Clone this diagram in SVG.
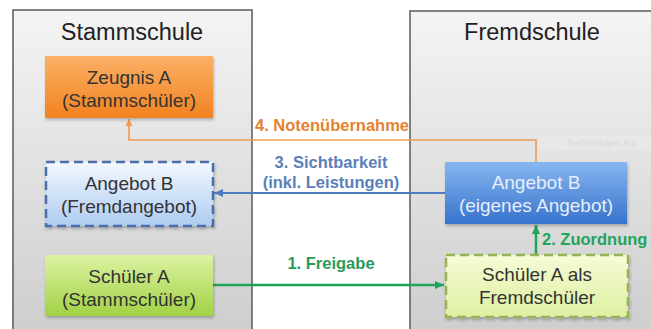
<svg xmlns="http://www.w3.org/2000/svg" width="651" height="329" viewBox="0 0 651 329">
<style>
  .title{font-family:"Liberation Sans",Arial,sans-serif;font-size:23.5px;fill:#222;text-anchor:middle}
  .nt{font-family:"Liberation Sans",Arial,sans-serif;font-size:19px;fill:#333;text-anchor:middle}
  .lbl{font-family:"Liberation Sans",Arial,sans-serif;font-size:16.5px;font-weight:bold}
  .panel{stroke:#5a5a5a;stroke-width:1.5;fill:url(#gPanel)}
  .conn{fill:none}
</style>
<defs>
  <linearGradient id="gPanel" x1="0" y1="0" x2="0" y2="1">
    <stop offset="0" stop-color="#f4f4f4"/>
    <stop offset="1" stop-color="#cdcdcd"/>
  </linearGradient>
  <linearGradient id="gOrange" x1="0" y1="0" x2="0" y2="1">
    <stop offset="0" stop-color="#fbb066"/>
    <stop offset="1" stop-color="#f2821f"/>
  </linearGradient>
  <linearGradient id="gBlueLight" x1="0" y1="0" x2="0" y2="1">
    <stop offset="0" stop-color="#f3f8ff"/>
    <stop offset="1" stop-color="#aecbf2"/>
  </linearGradient>
  <linearGradient id="gGreen" x1="0" y1="0" x2="0" y2="1">
    <stop offset="0" stop-color="#dcf2a2"/>
    <stop offset="1" stop-color="#a1d245"/>
  </linearGradient>
  <linearGradient id="gBlue" x1="0" y1="0" x2="0" y2="1">
    <stop offset="0" stop-color="#86b6f0"/>
    <stop offset="1" stop-color="#3873cc"/>
  </linearGradient>
  <linearGradient id="gGreenLight" x1="0" y1="0" x2="0" y2="1">
    <stop offset="0" stop-color="#f6fbd6"/>
    <stop offset="1" stop-color="#ddf0a0"/>
  </linearGradient>
  <filter id="sh" x="-10%" y="-10%" width="125%" height="130%">
    <feDropShadow dx="1" dy="2" stdDeviation="1.5" flood-color="#000" flood-opacity="0.25"/>
  </filter>
  <marker id="aOrange" markerUnits="userSpaceOnUse" markerWidth="8" markerHeight="8" refX="7" refY="4" orient="auto">
    <path d="M0,0.5 L7,4 L0,7.5 z" fill="#ee9a55"/>
  </marker>
  <marker id="aBlue" markerUnits="userSpaceOnUse" markerWidth="10" markerHeight="10" refX="9" refY="5" orient="auto">
    <path d="M0,1 L9,5 L0,9 z" fill="#4f7cc0"/>
  </marker>
  <marker id="aGreen" markerUnits="userSpaceOnUse" markerWidth="10" markerHeight="10" refX="9" refY="5" orient="auto">
    <path d="M0,1 L9,5 L0,9 z" fill="#1fa45a"/>
  </marker>
</defs>

<rect x="0" y="0" width="651" height="329" fill="#ffffff"/>

<g id="stammschule">
  <rect class="panel" x="13" y="10" width="239" height="330"/>
  <text class="title" x="132" y="40">Stammschule</text>
</g>
<g id="fremdschule">
  <rect class="panel" x="410" y="11" width="255" height="330"/>
  <text class="title" x="532" y="40">Fremdschule</text>
</g>

<g id="tooltip" opacity="0.55">
  <rect x="538" y="135" width="120" height="15" fill="#ececec"/>
  <text x="567" y="146" font-family="Liberation Sans, Arial, sans-serif" font-size="9" fill="#c8ccd2">Rechteckiges Au</text>
</g>

<g id="connectors">
  <path class="conn" d="M536,162 V140 H129 V119" stroke="#ee9a55" stroke-width="1.6" marker-end="url(#aOrange)"/>
  <path class="conn" d="M445,193 H214" stroke="#4f7cc0" stroke-width="2" marker-end="url(#aBlue)"/>
  <path class="conn" d="M213,285 H444" stroke="#1fa45a" stroke-width="2.5" marker-end="url(#aGreen)"/>
  <path class="conn" d="M536,254 V225" stroke="#1fa45a" stroke-width="2.5" marker-end="url(#aGreen)"/>
  <text class="lbl" x="332" y="131" text-anchor="middle" fill="#e5822f">4. Notenübernahme</text>
  <text class="lbl" x="331" y="168" text-anchor="middle" fill="#5b80b8">3. Sichtbarkeit</text>
  <text class="lbl" x="331" y="188" text-anchor="middle" fill="#5b80b8">(inkl. Leistungen)</text>
  <text class="lbl" x="331" y="269" text-anchor="middle" fill="#2a9a5c">1. Freigabe</text>
  <text class="lbl" x="542" y="245" fill="#1fa45a">2. Zuordnung</text>
</g>

<g id="zeugnisA">
  <rect x="45" y="56" width="168" height="62" fill="url(#gOrange)" filter="url(#sh)"/>
  <text class="nt" x="129" y="84">Zeugnis A</text>
  <text class="nt" x="129" y="107">(Stammschüler)</text>
</g>

<g id="angebotB_fremd">
  <rect x="46" y="162" width="167" height="64" fill="url(#gBlueLight)" stroke="#4a70a8" stroke-width="2.5" stroke-dasharray="9,5" filter="url(#sh)"/>
  <text class="nt" x="129" y="190">Angebot B</text>
  <text class="nt" x="129" y="213">(Fremdangebot)</text>
</g>

<g id="schuelerA">
  <rect x="45" y="255" width="168" height="61" fill="url(#gGreen)" filter="url(#sh)"/>
  <text class="nt" x="129" y="283">Schüler A</text>
  <text class="nt" x="129" y="306">(Stammschüler)</text>
</g>

<g id="angebotB_eigen">
  <rect x="445" y="162" width="182" height="62" fill="url(#gBlue)" filter="url(#sh)"/>
  <text class="nt" x="536" y="189" fill="#e6eefb" style="fill:#e6eefb">Angebot B</text>
  <text class="nt" x="536" y="212" style="fill:#e6eefb">(eigenes Angebot)</text>
</g>

<g id="schuelerA_fremd">
  <rect x="446" y="255" width="182" height="62" fill="url(#gGreenLight)" stroke="#95b355" stroke-width="2.5" stroke-dasharray="9,5" filter="url(#sh)"/>
  <text class="nt" x="537" y="281">Schüler A als</text>
  <text class="nt" x="537" y="304">Fremdschüler</text>
</g>
</svg>
